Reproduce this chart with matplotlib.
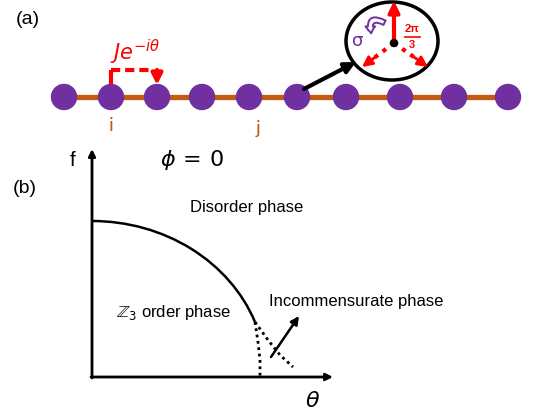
import numpy as np
import matplotlib.pyplot as plt
from matplotlib.patches import Circle, Ellipse, Arc, FancyArrowPatch

# ---- schematic values (pixel units) ----
site_x = [64, 111, 157, 202, 249, 297, 346, 400, 454, 508]
chain_y = 97
site_labels = ['i', 'j']
label_x = [111, 258]
label_y = [125, 128]

phase_names = ['Disorder phase', r'$\mathbb{Z}_3$ order phase', 'Incommensurate phase']
phase_x = [190, 116, 269]
phase_y = [207, 312, 301]

# phase boundary (quarter ellipse) and dotted branches
origin = (92, 377)
f_top = 221
theta_end = 255
boundary_end_y = 322
branch1_x = [255, 258, 260, 260]
branch1_y = [322, 342, 360, 377]
branch2_x = [255, 268, 280, 293]
branch2_y = [322, 340, 355, 367]

purple = '#7030A0'
orange = '#C55A11'
red = '#FF0000'

plt.rcParams['font.family'] = ['Liberation Sans', 'DejaVu Sans']
plt.rcParams['mathtext.fontset'] = 'dejavusans'

fig = plt.figure(figsize=(5.48, 4.15), dpi=100)
ax = fig.add_axes([0, 0, 1, 1])
ax.set_xlim(0, 548)
ax.set_ylim(415, 0)
ax.axis('off')

# ---------------- panel (a) ----------------
ax.text(28, 19, '(a)', fontsize=14, ha='center', va='center')
ax.plot([site_x[0], site_x[-1]], [chain_y, chain_y], color=orange, lw=3.8, zorder=1)
for x in site_x:
    ax.add_patch(Circle((x, chain_y), 12.5, color=purple, zorder=2))
for s, x, y in zip(site_labels, label_x, label_y):
    ax.text(x, y, s, color=orange, fontsize=14, ha='center', va='center', family='Lato')

# hopping arrow
ax.plot([111, 111], [84, 70], color=red, lw=3, solid_capstyle='butt')
ax.plot([111, 152], [70, 70], color=red, lw=3, ls=(0, (2.2, 1.2)), dash_capstyle='butt')
ax.annotate('', xy=(157, 85), xytext=(157, 70),
            arrowprops=dict(arrowstyle='-|>', color=red, lw=3, mutation_scale=16,
                            shrinkA=0, shrinkB=0))
ax.text(135, 52, r'$Je^{-i\theta}$', color=red, fontsize=15, ha='center', va='center')

# zoom bubble
ax.add_patch(Ellipse((392, 41), 92, 78, fill=False, ec='black', lw=2.5, zorder=3))
ax.annotate('', xy=(356, 62), xytext=(304, 89),
            arrowprops=dict(arrowstyle='-|>', color='black', lw=3, mutation_scale=16,
                            shrinkA=0, shrinkB=0))
ax.annotate('', xy=(394, 1), xytext=(394, 43),
            arrowprops=dict(arrowstyle='-|>', color=red, lw=3, mutation_scale=16,
                            shrinkA=0, shrinkB=0), zorder=4)
for tx in [362, 428]:
    ax.plot([394, (394 + tx) / 2 + (tx - 394) * 0.2], [43, 43 + 24 * 0.7], color=red,
            lw=3, ls=(0, (1, 1.4)), zorder=4)
    ax.annotate('', xy=(tx, 67), xytext=(394 + (tx - 394) * 0.6, 43 + 24 * 0.6),
                arrowprops=dict(arrowstyle='-|>', color=red, lw=2, mutation_scale=15,
                                shrinkA=0, shrinkB=0), zorder=4)
ax.add_patch(Circle((394, 43), 3.5, color='black', zorder=5))
ax.text(412, 29, r'2π', color=red, fontsize=8, fontweight='bold', ha='center', va='center')
ax.plot([405, 420], [37, 37], color=red, lw=1.2)
ax.text(412, 45, '3', color=red, fontsize=8, fontweight='bold', ha='center', va='center')
ax.text(358, 41, 'σ', color=purple, fontsize=13, ha='center', va='center', family='DejaVu Sans')
ax.add_patch(FancyArrowPatch((387, 24), (372, 36), connectionstyle='arc3,rad=1.2',
                             arrowstyle='simple,head_width=7,head_length=5,tail_width=3.5',
                             fc='white', ec=purple, lw=1.4, zorder=4))

# ---------------- panel (b) ----------------
ax.text(25, 188, '(b)', fontsize=14, ha='center', va='center')
ax.text(73, 160, 'f', fontsize=15, ha='center', va='center')
ax.text(192, 160, r'$\phi\,=\,0$', fontsize=16, ha='center', va='center')
ax.text(313, 401, r'$\theta$', fontsize=16, ha='center', va='center')

ax.annotate('', xy=(origin[0], 149), xytext=(origin[0], origin[1] + 1),
            arrowprops=dict(arrowstyle='-|>', color='black', lw=2, mutation_scale=10,
                            shrinkA=0, shrinkB=0))
ax.annotate('', xy=(333, origin[1]), xytext=(origin[0] - 1, origin[1]),
            arrowprops=dict(arrowstyle='-|>', color='black', lw=2, mutation_scale=10,
                            shrinkA=0, shrinkB=0))

a = (theta_end - origin[0]) / np.sqrt(1 - ((origin[1] - boundary_end_y) / (origin[1] - f_top)) ** 2)
b = origin[1] - f_top
end_ang = np.degrees(np.arctan2(boundary_end_y - origin[1], theta_end - origin[0]))
ax.add_patch(Arc(origin, 2 * a, 2 * b, theta1=-90, theta2=end_ang, color='black', lw=1.8))
ax.plot(branch1_x, branch1_y, color='black', lw=2, ls=(0, (1, 1.3)))
ax.plot(branch2_x, branch2_y, color='black', lw=2, ls=(0, (1, 1.3)))
ax.annotate('', xy=(299, 316), xytext=(271, 357),
            arrowprops=dict(arrowstyle='-|>', color='black', lw=1.8, mutation_scale=12,
                            shrinkA=0, shrinkB=0))

for name, x, y in zip(phase_names, phase_x, phase_y):
    ax.text(x, y, name, fontsize=12, ha='left', va='center')

fig.savefig('out.png', dpi=100)
